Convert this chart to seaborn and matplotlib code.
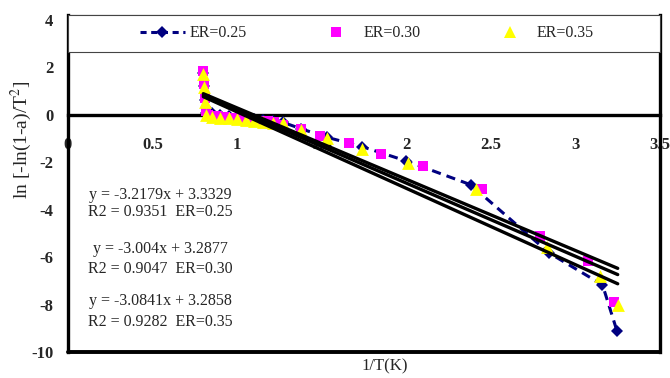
import matplotlib
matplotlib.use("Agg")
import matplotlib.pyplot as plt
from matplotlib.lines import Line2D
from matplotlib.patches import Rectangle
from matplotlib.ticker import MultipleLocator
import seaborn as sns
import numpy as np

# 1/T values and ln[-ln(1-a)/T^2] for each equivalence ratio
x_er25 = [0.80, 0.805, 0.81, 0.815, 0.85, 0.90, 0.95, 1.00, 1.05, 1.10, 1.15, 1.21,
          1.27, 1.38, 1.53, 1.74, 2.00, 2.38, 2.845, 3.16, 3.245]
y_er25 = [1.75, 1.20, 0.60, 0.05, 0.05, 0.00, -0.05, -0.10, -0.12, -0.18, -0.22, -0.28,
          -0.32, -0.60, -0.95, -1.35, -1.95, -2.95, -5.83, -7.17, -9.10]

x_er30 = [0.80, 0.805, 0.81, 0.815, 0.83, 0.88, 0.93, 0.98, 1.03, 1.08, 1.13, 1.18,
          1.22, 1.27, 1.38, 1.49, 1.66, 1.85, 2.10, 2.45, 2.79, 3.075, 3.23]
y_er30 = [1.85, 1.30, 0.70, 0.15, 0.00, -0.05, -0.10, -0.12, -0.15, -0.20, -0.25, -0.28,
          -0.32, -0.42, -0.60, -0.90, -1.20, -1.65, -2.18, -3.14, -5.10, -6.15, -7.88]

x_er35 = [0.80, 0.805, 0.81, 0.815, 0.85, 0.90, 0.95, 1.00, 1.05, 1.10, 1.15, 1.21,
          1.27, 1.38, 1.53, 1.74, 2.01, 2.41, 2.83, 3.145, 3.25]
y_er35 = [1.70, 1.15, 0.55, 0.00, -0.10, -0.12, -0.15, -0.18, -0.22, -0.26, -0.30, -0.33,
          -0.35, -0.63, -0.98, -1.45, -2.05, -3.13, -5.56, -6.80, -8.00]

# Linear fits: slope, intercept, R2
er_labels = ["0.25", "0.30", "0.35"]
fit_slopes = [-3.2179, -3.004, -3.0841]
fit_intercepts = [3.3329, 3.2877, 3.2858]
fit_r2 = [0.9351, 0.9047, 0.9282]
fit_range = [0.80, 3.25]

sns.set_style("white")
plt.rcParams["font.family"] = ["Liberation Serif", "DejaVu Serif"]
plt.rcParams["mathtext.fontset"] = "stix"
plt.rcParams["axes.unicode_minus"] = False

fig = plt.figure(figsize=(6.7, 3.78), dpi=100)
ax = fig.add_axes([68 / 670, 26 / 378, 592 / 670, 337 / 378])

navy = "#000080"
sns.lineplot(x=x_er25, y=y_er25, ax=ax, color=navy, marker="D", markersize=6.5,
             markeredgewidth=0, linewidth=2.2, linestyle=(0, (3, 2)),
             estimator=None, sort=False, zorder=3)
sns.scatterplot(x=x_er30, y=y_er30, ax=ax, color="#FF00FF", marker="s", s=55,
                linewidth=0, zorder=4)
sns.scatterplot(x=x_er35, y=y_er35, ax=ax, color="#FFFF00", marker="^", s=85,
                linewidth=0, zorder=5)

xf = np.array(fit_range)
for m, b in zip(fit_slopes, fit_intercepts):
    sns.lineplot(x=xf, y=m * xf + b, ax=ax, color="black", linewidth=2.4,
                 estimator=None, sort=False, zorder=6)

ax.set_xlim(0, 3.5)
ax.set_ylim(-10, 4.2)

# x axis crossing at y = 0, plot frame closed at y = -10
ax.spines["bottom"].set_position(("data", 0))
for side in ("left", "right", "bottom"):
    ax.spines[side].set_linewidth(2.4)
    ax.spines[side].set_color("black")
ax.spines["top"].set_linewidth(0.8)
ax.spines["top"].set_color("black")
ax.axhline(-10, color="black", lw=2.8, zorder=7, clip_on=False)

ax.xaxis.set_major_locator(MultipleLocator(0.5))
ax.xaxis.set_minor_locator(MultipleLocator(0.1))
ax.set_xticks([0, 0.5, 1, 1.5, 2, 2.5, 3, 3.5])
ax.set_xticklabels(["0", "0.5", "1", "1.5", "2", "2.5", "3", "3.5"])
ax.set_yticks(range(-10, 5, 2))
ax.tick_params(axis="x", which="major", direction="inout", length=6, width=1.6,
               pad=13, labelsize=12)
ax.tick_params(axis="x", which="minor", direction="in", length=3, width=1.4)
ax.tick_params(axis="y", which="major", direction="inout", length=5, width=1.6,
               pad=8, labelsize=12)
for lab in ax.get_xticklabels() + ax.get_yticklabels():
    lab.set_fontweight("bold")

ax.set_xlabel("1/T(K)", fontsize=12, labelpad=0)
ax.xaxis.set_label_coords(0.535, -0.02)
ax.set_ylabel("ln [-ln(1-a)/T$^2$]", fontsize=14, labelpad=6)
ax.yaxis.set_label_coords(-0.058, 0.63)

# Fit equations
eq_x = 0.545
eq_rows = [(-3.38, -4.12), (-5.65, -6.50), (-7.83, -8.72)]
for (ya, yb), m, b, r2, er in zip(eq_rows, fit_slopes, fit_intercepts, fit_r2, er_labels):
    ax.text(eq_x, ya, f"y = {m}x + {b}", ha="center", va="center", fontsize=11.5)
    ax.text(eq_x, yb, f"R2 = {r2}  ER={er}", ha="center", va="center", fontsize=11.5)

# Legend box across the top of the plot area
ax.add_patch(Rectangle((0, (2.65 + 10) / 14.2), 1, 1 - (2.65 + 10) / 14.2,
                       transform=ax.transAxes, facecolor="white", edgecolor="#444444",
                       lw=0.8, zorder=8, clip_on=False))
handles = [
    Line2D([], [], color=navy, marker="D", markersize=6.5, markeredgewidth=0,
           lw=2.2, linestyle=(0, (2, 1.5))),
    Line2D([], [], color="#FF00FF", marker="s", markersize=7, markeredgewidth=0, lw=0),
    Line2D([], [], color="#FFFF00", marker="^", markersize=9, markeredgewidth=0, lw=0),
]
leg = ax.legend(handles, [f"ER={e}" for e in er_labels], loc="center",
                bbox_to_anchor=(0.505, 1 - (1 - (2.65 + 10) / 14.2) / 2), ncol=3,
                frameon=False, fontsize=11.5, handlelength=2.8, handletextpad=0.3,
                columnspacing=4.2, borderaxespad=0)
leg.set_zorder(9)

fig.savefig("out.png", dpi=100)
